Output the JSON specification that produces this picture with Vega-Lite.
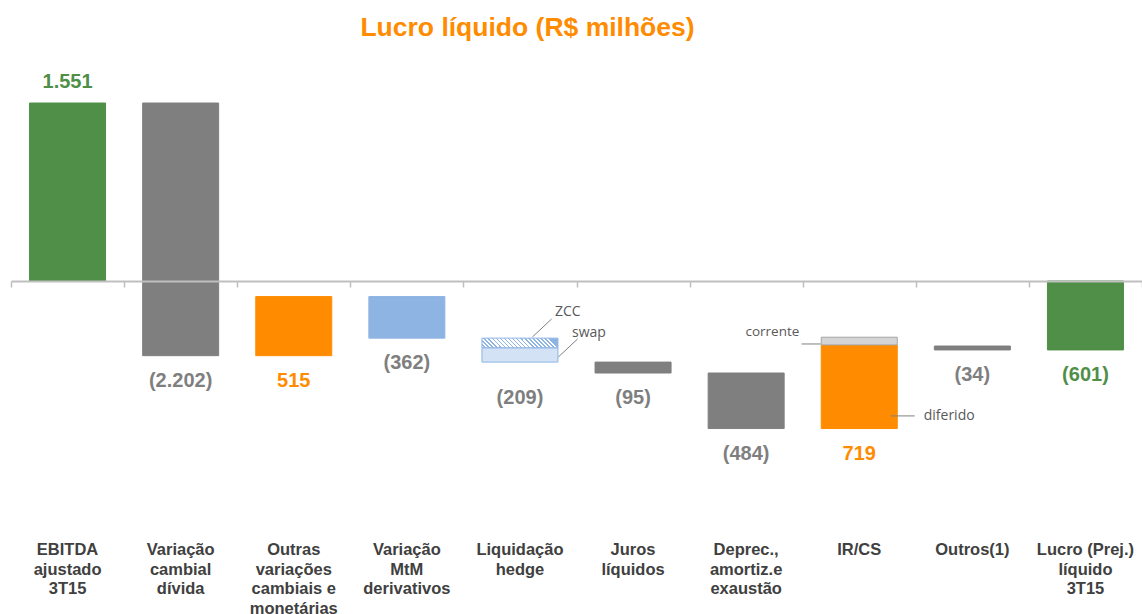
{
  "$schema": "https://vega.github.io/schema/vega-lite/v6.json",
  "width": 1131,
  "height": 478,
  "autosize": {"type": "none"},
  "padding": {"left": 11, "top": 60, "right": 0, "bottom": 76},
  "background": "white",
  "config": {"view": {"stroke": null}, "font": "Liberation Sans"},
  "title": {
    "text": "Lucro líquido (R$ milhões)",
    "fontSize": 26.5,
    "fontWeight": "bold",
    "color": "#FF8C00",
    "font": "Liberation Sans",
    "anchor": "middle",
    "dx": -49,
    "offset": -2,
    "baseline": "alphabetic"
  },
  "datasets": {
    "bars": [
      {"idx": 0, "start": 0, "end": 1551, "kind": "total"},
      {"idx": 1, "start": 1551, "end": -651, "kind": "neg"},
      {"idx": 2, "start": -651, "end": -136, "kind": "pos"},
      {"idx": 3, "start": -136, "end": -498, "kind": "mtm"},
      {"idx": 4, "start": -498, "end": -582, "kind": "zcc"},
      {"idx": 4, "start": -582, "end": -707, "kind": "swap"},
      {"idx": 5, "start": -707, "end": -802, "kind": "neg"},
      {"idx": 6, "start": -802, "end": -1286, "kind": "neg"},
      {"idx": 7, "start": -1286, "end": -557, "kind": "pos"},
      {"idx": 7, "start": -557, "end": -490, "kind": "corrente"},
      {"idx": 8, "start": -567, "end": -601, "kind": "neg"},
      {"idx": 9, "start": 0, "end": -601, "kind": "total"}
    ],
    "values": [
      {"idx": 0, "text": "1.551", "at": 1551, "kind": "total"},
      {"idx": 1, "text": "(2.202)", "at": -651, "kind": "neg"},
      {"idx": 2, "text": "515", "at": -651, "kind": "pos"},
      {"idx": 3, "text": "(362)", "at": -498, "kind": "neg"},
      {"idx": 4, "text": "(209)", "at": -707, "kind": "neg"},
      {"idx": 5, "text": "(95)", "at": -802, "kind": "neg"},
      {"idx": 6, "text": "(484)", "at": -1286, "kind": "neg"},
      {"idx": 7, "text": "719", "at": -1286, "kind": "pos"},
      {"idx": 8, "text": "(34)", "at": -601, "kind": "neg"},
      {"idx": 9, "text": "(601)", "at": -601, "kind": "total"}
    ],
    "cats": [
      {"idx": 0, "name": "EBITDA\najustado\n3T15"},
      {"idx": 1, "name": "Variação\ncambial\ndívida"},
      {"idx": 2, "name": "Outras\nvariações\ncambiais e\nmonetárias"},
      {"idx": 3, "name": "Variação\nMtM\nderivativos"},
      {"idx": 4, "name": "Liquidação\nhedge"},
      {"idx": 5, "name": "Juros\nlíquidos"},
      {"idx": 6, "name": "Deprec.,\namortiz.e\nexaustão"},
      {"idx": 7, "name": "IR/CS"},
      {"idx": 8, "name": "Outros(1)"},
      {"idx": 9, "name": "Lucro (Prej.)\nlíquido\n3T15"}
    ],
    "noteLines": [
      {"x": 4.11, "x2": 4.28, "y": -488, "y2": -331},
      {"x": 4.34, "x2": 4.51, "y": -662, "y2": -505},
      {"x": 6.49, "x2": 6.66, "y": -549, "y2": -549},
      {"x": 7.28, "x2": 7.49, "y": -1176, "y2": -1176}
    ],
    "noteTexts": [
      {"x": 4.31, "y": -270, "text": "ZCC", "side": "right"},
      {"x": 4.46, "y": -453, "text": "swap", "side": "right"},
      {"x": 6.47, "y": -444, "text": "corrente", "side": "left"},
      {"x": 7.57, "y": -1176, "text": "diferido", "side": "right"}
    ]
  },
  "layer": [
    {
      "data": {"name": "bars"},
      "transform": [{"filter": "datum.kind != 'zcc'"}],
      "mark": {"type": "bar", "width": 76, "strokeWidth": 1},
      "encoding": {
        "x": {
          "field": "idx",
          "type": "quantitative",
          "scale": {"domain": [-0.5, 9.5], "nice": false, "zero": false, "padding": 0},
          "axis": {
            "values": [-0.5, 0.5, 1.5, 2.5, 3.5, 4.5, 5.5, 6.5, 7.5, 8.5, 9.5],
            "labels": false,
            "title": null,
            "grid": false,
            "offset": -257,
            "zindex": 1,
            "domainColor": "#BFBFBF",
            "domainWidth": 2,
            "tickColor": "#BFBFBF",
            "tickSize": 6,
            "tickWidth": 1.5
          }
        },
        "y": {
          "field": "start",
          "type": "quantitative",
          "scale": {"domain": [-2240, 1926], "nice": false, "zero": false},
          "axis": null
        },
        "y2": {"field": "end"},
        "color": {
          "field": "kind",
          "type": "nominal",
          "scale": {
            "domain": ["total", "neg", "pos", "mtm", "zcc", "swap", "corrente"],
            "range": ["#4F8F47", "#7F7F7F", "#FF8C00", "#8EB4E3", "#E3ECF8", "#D3E2F5", "#D4D4D4"]
          },
          "legend": null
        },
        "stroke": {
          "field": "kind",
          "type": "nominal",
          "scale": {
            "domain": ["total", "neg", "pos", "mtm", "zcc", "swap", "corrente"],
            "range": ["#4F8F47", "#7F7F7F", "#FF8C00", "#8EB4E3", "#8EB4E3", "#8EB4E3", "#A6A6A6"]
          },
          "legend": null
        }
      }
    },
    {
      "data": {"name": "bars"},
      "transform": [{"filter": "datum.kind == 'zcc'"}],
      "mark": {
        "type": "bar",
        "width": 76,
        "stroke": "#8EB4E3",
        "strokeWidth": 1,
        "fill": {
          "gradient": "linear",
          "x1": 0, "y1": 1, "x2": 1, "y2": 0.874,
          "stops": [
            {"offset": 0, "color": "#FFFFFF"}, {"offset": 0.033, "color": "#FFFFFF"}, {"offset": 0.033, "color": "#8EB4E3"}, {"offset": 0.0526, "color": "#8EB4E3"},
            {"offset": 0.0526, "color": "#FFFFFF"}, {"offset": 0.0856, "color": "#FFFFFF"}, {"offset": 0.0856, "color": "#8EB4E3"}, {"offset": 0.1053, "color": "#8EB4E3"},
            {"offset": 0.1053, "color": "#FFFFFF"}, {"offset": 0.1383, "color": "#FFFFFF"}, {"offset": 0.1383, "color": "#8EB4E3"}, {"offset": 0.1579, "color": "#8EB4E3"},
            {"offset": 0.1579, "color": "#FFFFFF"}, {"offset": 0.1909, "color": "#FFFFFF"}, {"offset": 0.1909, "color": "#8EB4E3"}, {"offset": 0.2105, "color": "#8EB4E3"},
            {"offset": 0.2105, "color": "#FFFFFF"}, {"offset": 0.2435, "color": "#FFFFFF"}, {"offset": 0.2435, "color": "#8EB4E3"}, {"offset": 0.2632, "color": "#8EB4E3"},
            {"offset": 0.2632, "color": "#FFFFFF"}, {"offset": 0.2962, "color": "#FFFFFF"}, {"offset": 0.2962, "color": "#8EB4E3"}, {"offset": 0.3158, "color": "#8EB4E3"},
            {"offset": 0.3158, "color": "#FFFFFF"}, {"offset": 0.3488, "color": "#FFFFFF"}, {"offset": 0.3488, "color": "#8EB4E3"}, {"offset": 0.3684, "color": "#8EB4E3"},
            {"offset": 0.3684, "color": "#FFFFFF"}, {"offset": 0.4014, "color": "#FFFFFF"}, {"offset": 0.4014, "color": "#8EB4E3"}, {"offset": 0.4211, "color": "#8EB4E3"},
            {"offset": 0.4211, "color": "#FFFFFF"}, {"offset": 0.4541, "color": "#FFFFFF"}, {"offset": 0.4541, "color": "#8EB4E3"}, {"offset": 0.4737, "color": "#8EB4E3"},
            {"offset": 0.4737, "color": "#FFFFFF"}, {"offset": 0.5067, "color": "#FFFFFF"}, {"offset": 0.5067, "color": "#8EB4E3"}, {"offset": 0.5263, "color": "#8EB4E3"},
            {"offset": 0.5263, "color": "#FFFFFF"}, {"offset": 0.5593, "color": "#FFFFFF"}, {"offset": 0.5593, "color": "#8EB4E3"}, {"offset": 0.5789, "color": "#8EB4E3"},
            {"offset": 0.5789, "color": "#FFFFFF"}, {"offset": 0.6119, "color": "#FFFFFF"}, {"offset": 0.6119, "color": "#8EB4E3"}, {"offset": 0.6316, "color": "#8EB4E3"},
            {"offset": 0.6316, "color": "#FFFFFF"}, {"offset": 0.6646, "color": "#FFFFFF"}, {"offset": 0.6646, "color": "#8EB4E3"}, {"offset": 0.6842, "color": "#8EB4E3"},
            {"offset": 0.6842, "color": "#FFFFFF"}, {"offset": 0.7172, "color": "#FFFFFF"}, {"offset": 0.7172, "color": "#8EB4E3"}, {"offset": 0.7368, "color": "#8EB4E3"},
            {"offset": 0.7368, "color": "#FFFFFF"}, {"offset": 0.7698, "color": "#FFFFFF"}, {"offset": 0.7698, "color": "#8EB4E3"}, {"offset": 0.7895, "color": "#8EB4E3"},
            {"offset": 0.7895, "color": "#FFFFFF"}, {"offset": 0.8225, "color": "#FFFFFF"}, {"offset": 0.8225, "color": "#8EB4E3"}, {"offset": 0.8421, "color": "#8EB4E3"},
            {"offset": 0.8421, "color": "#FFFFFF"}, {"offset": 0.8751, "color": "#FFFFFF"}, {"offset": 0.8751, "color": "#8EB4E3"}, {"offset": 0.8947, "color": "#8EB4E3"},
            {"offset": 0.8947, "color": "#FFFFFF"}, {"offset": 0.9277, "color": "#FFFFFF"}, {"offset": 0.9277, "color": "#8EB4E3"}, {"offset": 0.9474, "color": "#8EB4E3"},
            {"offset": 0.9474, "color": "#FFFFFF"}, {"offset": 0.9804, "color": "#FFFFFF"}, {"offset": 0.9804, "color": "#8EB4E3"}, {"offset": 1, "color": "#8EB4E3"}
          ]
        }
      },
      "encoding": {
        "x": {"field": "idx", "type": "quantitative"},
        "y": {"field": "start", "type": "quantitative"},
        "y2": {"field": "end"}
      }
    },
    {
      "data": {"name": "values"},
      "transform": [{"filter": "datum.idx == 0"}],
      "mark": {"type": "text", "fontSize": 20, "fontWeight": "bold", "baseline": "middle", "align": "center", "dy": -21},
      "encoding": {
        "x": {"field": "idx", "type": "quantitative"},
        "y": {"field": "at", "type": "quantitative"},
        "text": {"field": "text"},
        "color": {"field": "kind", "type": "nominal", "legend": null}
      }
    },
    {
      "data": {"name": "values"},
      "transform": [{"filter": "datum.idx == 4"}],
      "mark": {"type": "text", "fontSize": 20, "fontWeight": "bold", "baseline": "middle", "align": "center", "dy": 36},
      "encoding": {
        "x": {"field": "idx", "type": "quantitative"},
        "y": {"field": "at", "type": "quantitative"},
        "text": {"field": "text"},
        "color": {"field": "kind", "type": "nominal", "legend": null}
      }
    },
    {
      "data": {"name": "values"},
      "transform": [{"filter": "datum.idx != 0 && datum.idx != 4"}],
      "mark": {"type": "text", "fontSize": 20, "fontWeight": "bold", "baseline": "middle", "align": "center", "dy": 25},
      "encoding": {
        "x": {"field": "idx", "type": "quantitative"},
        "y": {"field": "at", "type": "quantitative"},
        "text": {"field": "text"},
        "color": {"field": "kind", "type": "nominal", "legend": null}
      }
    },
    {
      "data": {"name": "cats"},
      "mark": {"type": "text", "fontSize": 16.5, "fontWeight": "bold", "color": "#404040", "baseline": "top", "align": "center", "lineBreak": "\n", "lineHeight": 19.5, "dy": 4},
      "encoding": {
        "x": {"field": "idx", "type": "quantitative"},
        "y": {"datum": -2240, "type": "quantitative"},
        "text": {"field": "name"}
      }
    },
    {
      "data": {"name": "noteLines"},
      "mark": {"type": "rule", "color": "#808080", "strokeWidth": 1},
      "encoding": {
        "x": {"field": "x", "type": "quantitative"},
        "x2": {"field": "x2"},
        "y": {"field": "y", "type": "quantitative"},
        "y2": {"field": "y2"}
      }
    },
    {
      "data": {"name": "noteTexts"},
      "transform": [{"filter": "datum.side == 'right'"}],
      "mark": {"type": "text", "font": "Open Sans", "fontSize": 14, "color": "#595959", "align": "left", "baseline": "middle"},
      "encoding": {
        "x": {"field": "x", "type": "quantitative"},
        "y": {"field": "y", "type": "quantitative"},
        "text": {"field": "text"}
      }
    },
    {
      "data": {"name": "noteTexts"},
      "transform": [{"filter": "datum.side == 'left'"}],
      "mark": {"type": "text", "font": "Open Sans", "fontSize": 13.5, "color": "#595959", "align": "right", "baseline": "middle"},
      "encoding": {
        "x": {"field": "x", "type": "quantitative"},
        "y": {"field": "y", "type": "quantitative"},
        "text": {"field": "text"}
      }
    }
  ]
}
